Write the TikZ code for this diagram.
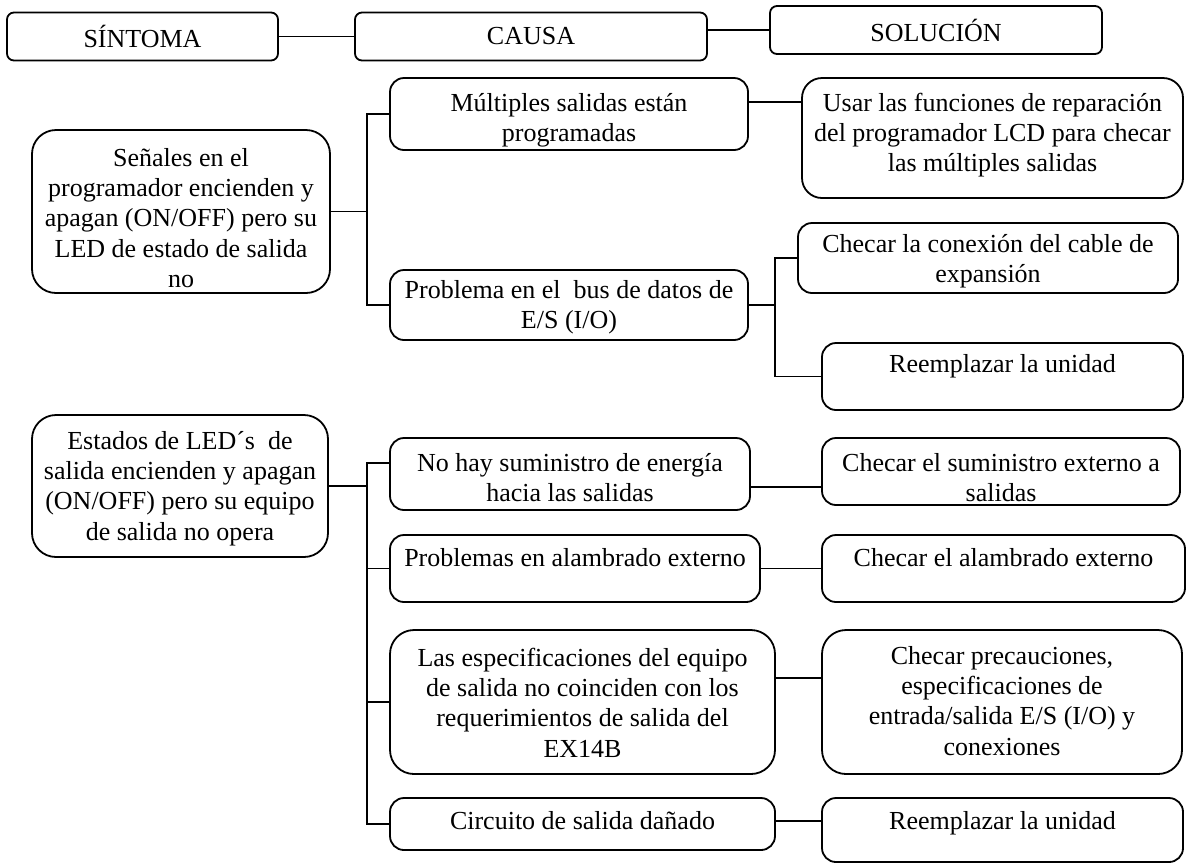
\documentclass[tikz,border=0pt]{standalone}
\usepackage{fontspec}
\setmainfont{Liberation Serif}
\newcommand{\cajatexto}[4]{\parbox[c][#2][t]{#1}{\centering\rule{0pt}{\dimexpr#3+1.5pt\relax}#4}}

\begin{document}
\begin{tikzpicture}[x=0.5pt,y=-0.5pt,
  caja/.style={draw,line width=0.9pt,rounded corners=7pt,align=center,inner sep=0pt,
    font=\fontsize{13}{15.2}\selectfont},
  titulo/.style={caja,rounded corners=3.5pt,minimum height=24pt},
  linea/.style={line width=0.65pt}]
  \useasboundingbox (0,0) rectangle (1186,864);
  \node[titulo,minimum width=135.5pt] (hsin) at (142.5,36.5) {SÍNTOMA};
  \node[titulo,minimum width=176pt] (hcau) at (531,36.5) {CAUSA};
  \node[titulo,minimum width=166pt] (hsol) at (936,30) {SOLUCIÓN};
  \draw[linea] (hsin.east) -- (hcau.west);
  \draw[linea] (hsol.west) -- (hsol.west -| hcau.east);

  \node[caja,rounded corners=12pt] (sen) at (181,211.5)
    {\cajatexto{149pt}{81.5pt}{16.5pt}{Señales en el\\ programador encienden y\\ apagan (ON/OFF) pero su\\ LED de estado de salida\\ no}};
  \node[caja] (mult) at (569,114)
    {\cajatexto{179pt}{36pt}{15pt}{Múltiples salidas están\\ programadas}};
  \node[caja] (bus) at (569,305)
    {\cajatexto{179pt}{35pt}{12.5pt}{Problema en el\ \ bus de datos de\\ E/S (I/O)}};
  \node[caja,rounded corners=10pt] (usar) at (992.5,138)
    {\cajatexto{190.5pt}{60pt}{15pt}{Usar las funciones de reparación\\ del programador LCD para checar\\ las múltiples salidas}};
  \node[caja] (cable) at (988,258)
    {\cajatexto{190pt}{35pt}{13pt}{Checar la conexión del cable de\\ expansión}};
  \node[caja] (reem) at (1002.5,376.5)
    {\cajatexto{180.5pt}{33.5pt}{13pt}{Reemplazar la unidad}};
  \coordinate (j1) at (367,0);
  \coordinate (j2) at (775,0);
  \draw[linea] (sen.east) -- (sen.east -| j1);
  \draw[linea] (mult.west) -- (mult.west -| j1) |- (bus.west);
  \draw[linea] ([yshift=6pt]mult.east) -- ([yshift=6pt]mult.east -| usar.west);
  \draw[linea] (bus.east) -- (bus.east -| j2);
  \draw[linea] (cable.west) -- (cable.west -| j2) |- (reem.west);

  \node[caja,rounded corners=12pt] (est) at (180,486)
    {\cajatexto{148pt}{71pt}{15.5pt}{Estados de LED´s\ \ de\\ salida encienden y apagan\\ (ON/OFF) pero su equipo\\ de salida no opera}};
  \node[caja] (ener) at (570,474)
    {\cajatexto{180pt}{36pt}{15pt}{No hay suministro de energía\\ hacia las salidas}};
  \node[caja] (alam) at (575,568.5)
    {\cajatexto{185pt}{33.5pt}{14pt}{Problemas en alambrado externo}};
  \node[caja,rounded corners=12pt] (espec) at (582.5,702)
    {\cajatexto{192.5pt}{72pt}{16.5pt}{Las especificaciones del equipo\\ de salida no coinciden con los\\ requerimientos de salida del\\ EX14B}};
  \node[caja] (circ) at (582.5,824)
    {\cajatexto{192.5pt}{26pt}{14pt}{Circuito de salida dañado}};
  \node[caja] (sumi) at (1001,471.5)
    {\cajatexto{179pt}{33.5pt}{15pt}{Checar el suministro externo a\\ salidas}};
  \node[caja] (calam) at (1003.5,568.5)
    {\cajatexto{181.5pt}{33.5pt}{14pt}{Checar el alambrado externo}};
  \node[caja,rounded corners=12pt] (prec) at (1002,702)
    {\cajatexto{180pt}{72pt}{15.5pt}{Checar precauciones,\\ especificaciones de\\ entrada/salida E/S (I/O) y\\ conexiones}};
  \node[caja] (reem2) at (1002.5,830)
    {\cajatexto{180.5pt}{32pt}{14pt}{Reemplazar la unidad}};
  \draw[linea] (est.east) -- (est.east -| j1);
  \draw[linea] ([yshift=5.5pt]ener.west) -- ([yshift=5.5pt]ener.west -| j1) |- (circ.west);
  \draw[linea] (alam.west) -- (alam.west -| j1);
  \draw[linea] (espec.west) -- (espec.west -| j1);
  \draw[linea] ([yshift=-6.5pt]ener.east) -- ([yshift=-6.5pt]ener.east -| sumi.west);
  \draw[linea] (alam.east) -- (calam.west);
  \draw[linea] ([yshift=12pt]espec.east) -- ([yshift=12pt]espec.east -| prec.west);
  \draw[linea] ([yshift=1.5pt]circ.east) -- ([yshift=1.5pt]circ.east -| reem2.west);
\end{tikzpicture}
\end{document}
